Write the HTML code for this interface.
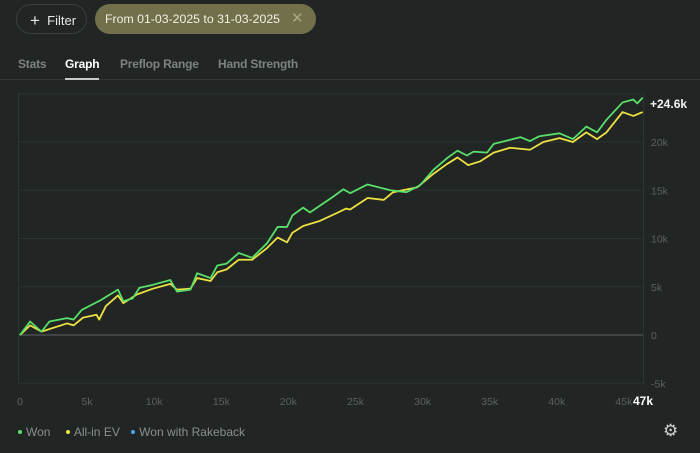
<!DOCTYPE html>
<html><head><meta charset="utf-8"><style>
body{margin:0;width:700px;height:453px;background:#212624;font-family:"Liberation Sans",sans-serif;overflow:hidden;position:relative}
.pill{position:absolute;top:4px;height:30px;border-radius:15px;box-sizing:border-box;font-size:13px;line-height:30px}
.tab{position:absolute;top:57px;font-size:12px;color:#7d827f;font-weight:bold;letter-spacing:-0.2px}
.dot{display:inline-block;width:4px;height:4px;border-radius:2px;vertical-align:middle;margin-right:4px;position:relative;top:-1px}
</style></head><body>
<div class="pill" style="left:16px;width:71px;border:1px solid #3a3f3c;color:#e6e6e6;padding-left:13px"><span style="font-size:17px;position:relative;top:1px">+</span>&nbsp; Filter</div>
<div class="pill" style="left:95px;width:221px;background:#71704a;color:#f2f2e6;padding-left:10px;font-size:12.3px">From 01-03-2025 to 31-03-2025<span style="position:absolute;left:196px;color:#a9a88a;font-size:15px">✕</span></div>
<div class="tab" style="left:18px">Stats</div>
<div class="tab" style="left:65px;color:#fff">Graph</div>
<div class="tab" style="left:120px">Preflop Range</div>
<div class="tab" style="left:218px">Hand Strength</div>
<div style="position:absolute;left:0;top:79px;width:700px;height:1px;background:#333835"></div>
<div style="position:absolute;left:65px;top:78px;width:34px;height:2px;background:#c8c8c8"></div>
<svg id="chart" width="700" height="453" style="position:absolute;left:0;top:0"></svg>
<div style="position:absolute;left:18px;top:425px;font-size:12px;color:#8a8f8c">
<span><span class="dot" style="background:#5de36a"></span>Won</span>
<span style="margin-left:12px"><span class="dot" style="background:#f0e040"></span>All-in EV</span>
<span style="margin-left:8px"><span class="dot" style="background:#4aa8e8"></span>Won with Rakeback</span>
</div>
<div style="position:absolute;left:663px;top:421px;font-size:17px;color:#d0d0d0">⚙</div>
<script>
const yTicks=[-5,0,5,10,15,20];
const yTickLabels=["-5k","0","5k","10k","15k","20k"];
const xTicks=[0,5,10,15,20,25,30,35,40,45];
const xTickLabels=["0","5k","10k","15k","20k","25k","30k","35k","40k","45k"];
const wonX=[0,0.75,1.6,2.2,3.5,4.0,4.6,6.0,7.3,7.7,8.4,8.9,9.9,11.2,11.7,12.7,13.2,14.2,14.7,15.4,16.3,17.3,18.4,19.2,19.9,20.3,21.1,21.6,23.3,24.1,24.6,25.9,27.6,28.8,29.8,30.8,31.8,32.6,33.3,33.8,34.8,35.3,37.3,38.0,38.7,40.2,41.2,42.2,43.0,43.7,44.9,45.7,46.0,46.4];
const wonY=[0,1.4,0.35,1.4,1.75,1.6,2.6,3.6,4.7,3.5,3.8,4.9,5.2,5.7,4.5,4.7,6.4,5.9,7.2,7.4,8.5,8.0,9.5,11.2,11.2,12.4,13.2,12.7,14.3,15.1,14.7,15.6,15.0,14.8,15.5,17.1,18.3,19.1,18.6,19.0,18.9,19.8,20.5,20.1,20.6,20.9,20.3,21.6,21.0,22.3,24.1,24.4,24.0,24.6];
const evX=[0,0.75,1.6,3.5,4.0,4.7,5.7,5.9,6.4,7.3,7.7,8.7,9.9,11.2,11.7,12.7,13.2,14.2,14.7,15.4,16.3,17.3,18.4,19.2,19.9,20.3,21.1,22.3,23.7,24.3,24.6,25.9,27.1,27.8,29.6,30.8,31.8,32.6,33.4,34.3,35.3,36.5,38.0,39.0,40.2,41.2,42.2,43.0,43.7,44.9,45.7,46.4];
const evY=[0,1.0,0.35,1.2,1.0,1.8,2.1,1.6,3.0,4.1,3.3,4.2,4.8,5.3,4.7,4.8,5.9,5.6,6.5,6.8,7.8,7.8,9.0,10.1,9.6,10.6,11.3,11.8,12.7,13.1,13.0,14.2,14.0,14.8,15.3,16.7,17.7,18.4,17.6,18.0,18.9,19.4,19.2,20.0,20.4,20.0,21.0,20.3,21.0,23.1,22.7,23.1];
const endLabel="+24.6k", endX="47k";
const svg=document.getElementById('chart');const NS="http://www.w3.org/2000/svg";
const sx=v=>20+v*13.42, sy=v=>335-v*9.65;
function mk(t,a){const e=document.createElementNS(NS,t);for(const k in a)e.setAttribute(k,a[k]);svg.appendChild(e);return e;}
yTicks.forEach((t,i)=>{
 const g=mk('line',{x1:18,x2:643,y1:sy(t),y2:sy(t),stroke:t===0?'#4a4f4c':'#2c322f','stroke-width':t===0?1.5:1});
 
 
 const l=mk('text',{x:651,y:sy(t)+4,fill:'#5c615e','font-size':10.5,'font-family':'Liberation Sans'});l.textContent=yTickLabels[i];
 
 
});
const topGrid=mk('line',{x1:18,x2:643,y1:sy(25),y2:sy(25),stroke:'#2c322f'});


const la=mk('line',{x1:18.5,x2:18.5,y1:sy(25),y2:sy(-5),stroke:'#2e3431'});


const ra=mk('line',{x1:643.5,x2:643.5,y1:sy(25),y2:sy(-5)+2,stroke:'#2e3431'});


xTicks.forEach((t,i)=>{const l=mk('text',{x:sx(t),y:405,fill:'#5c615e','font-size':10.5,'text-anchor':'middle','font-family':'Liberation Sans'});l.textContent=xTickLabels[i];
 
 });
const xe=mk('text',{x:643,y:405,fill:'#fff','font-size':12,'font-weight':'bold','text-anchor':'middle','font-family':'Liberation Sans'});xe.textContent=endX;


function line(X,Y,c,n){const p=mk('polyline',{points:X.map((x,i)=>sx(x)+','+sy(Y[i])).join(' '),fill:'none',stroke:c,'stroke-width':1.8,'stroke-linejoin':'round'});
 
 }
line(evX,evY,'#ede043','line-allin-ev');
line(wonX,wonY,'#58e06a','line-won');
const el=mk('text',{x:650,y:108,fill:'#f2f2f2','font-size':12,'font-weight':'bold','font-family':'Liberation Sans'});el.textContent=endLabel;


</script>
</body></html>
